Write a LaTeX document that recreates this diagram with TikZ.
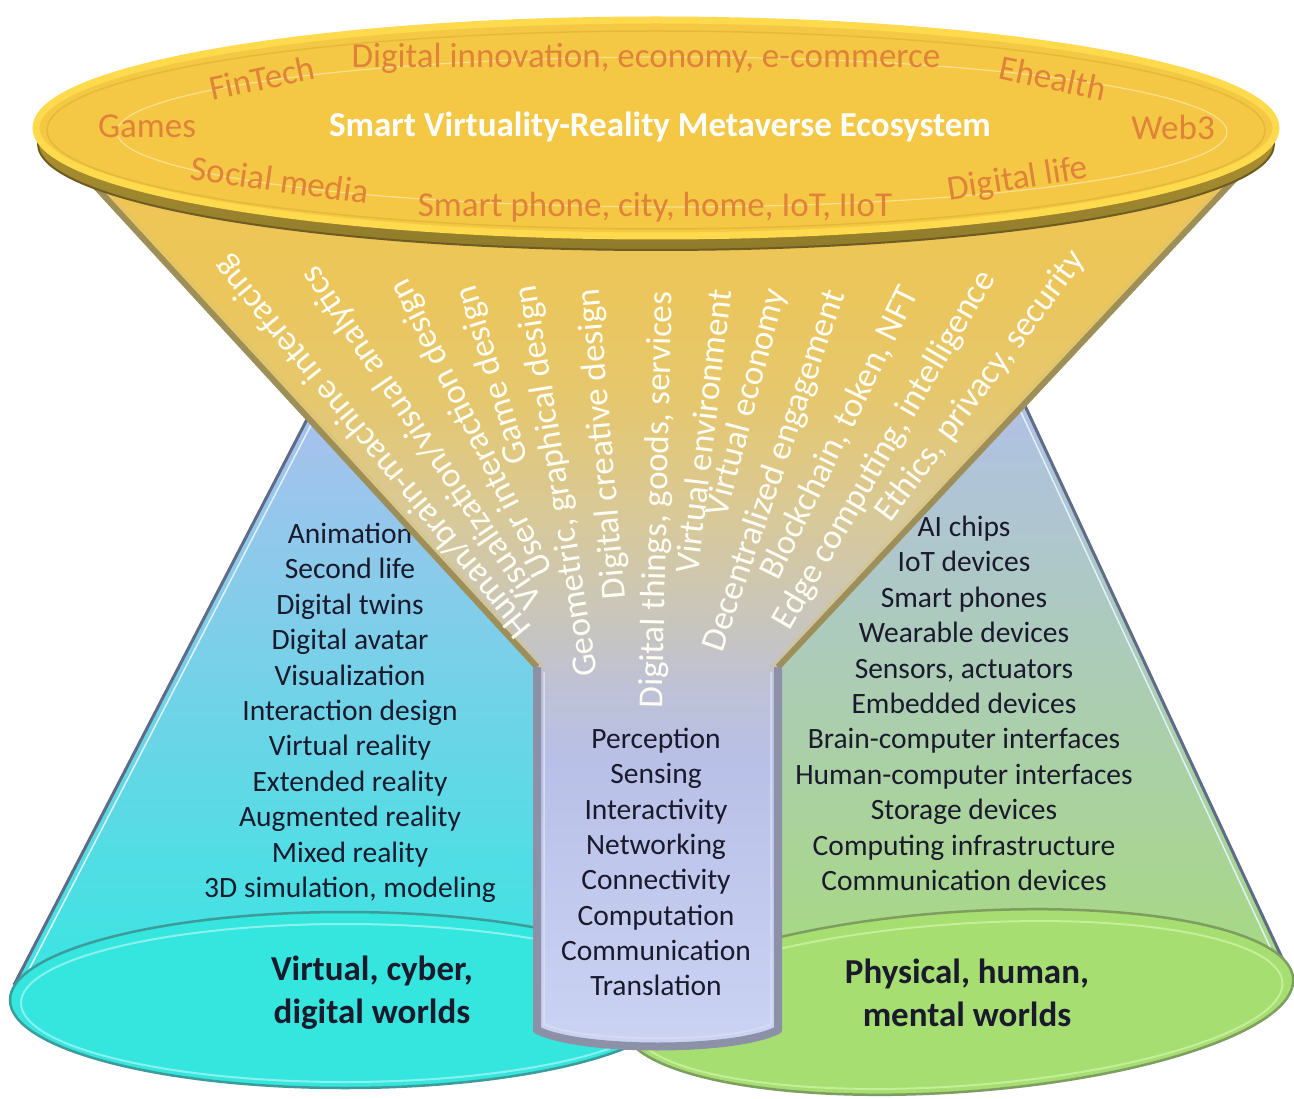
\documentclass[tikz,border=0pt]{standalone}
\usepackage{fontspec}
\setmainfont{Carlito}
\definecolor{stemB}{HTML}{CCD4F4}
\definecolor{stemB2}{HTML}{C8D0F2}
\definecolor{stemA}{HTML}{B8C0E7}
\definecolor{stemTop}{HTML}{BEC1D6}
\definecolor{fgray}{HTML}{C7C5C0}
\definecolor{ftan}{HTML}{D8C99A}
\definecolor{fgold3}{HTML}{E5C76E}
\definecolor{fgold2}{HTML}{ECC65A}
\definecolor{fgold1}{HTML}{F0C552}
\definecolor{lcTop}{HTML}{B0BEEE}
\definecolor{lcBot}{HTML}{36E6E2}
\definecolor{rcTop}{HTML}{B2BFEE}
\definecolor{rcBot}{HTML}{A6DA7C}
\definecolor{lbase}{HTML}{34E6DE}
\definecolor{lbaseE}{HTML}{3C9C9A}
\definecolor{lbaseHi}{HTML}{8AF2EE}
\definecolor{rbase}{HTML}{A6DE72}
\definecolor{rbaseE}{HTML}{7E9E60}
\definecolor{rbaseHi}{HTML}{C4EE98}
\definecolor{rimdk}{HTML}{5E6C88}
\definecolor{rimlt}{HTML}{E2F0FA}
\definecolor{listink}{HTML}{1A1A2C}
\definecolor{fanwhite}{HTML}{FFFDF4}
\definecolor{toporange}{HTML}{E0823A}
\definecolor{facecol}{HTML}{F4C844}
\definecolor{facelip}{HTML}{FFDA4C}
\definecolor{faceinner}{HTML}{E6B83A}
\definecolor{rimtop}{HTML}{C9A633}
\definecolor{rimbot}{HTML}{8F7B2C}
\definecolor{rimedge}{HTML}{6E5C22}
\definecolor{innerline}{HTML}{F9E08E}
\definecolor{fedge}{HTML}{9E8F58}
\definecolor{fedgelt}{HTML}{D8C474}
\definecolor{sedge}{HTML}{8D91A8}
\definecolor{sedgelt}{HTML}{D8DCF0}
\pgfdeclareverticalshading{funnelshade}{100bp}{color(0bp)=(stemB); color(25bp)=(stemB); color(27.9bp)=(stemB2); color(41.2bp)=(stemA); color(45.1bp)=(stemTop); color(48.4bp)=(fgray); color(54.5bp)=(ftan); color(61.1bp)=(fgold3); color(67.8bp)=(fgold2); color(75bp)=(fgold1); color(100bp)=(fgold1)}
\tikzset{
  toplab/.style={text=toporange, font=\fontsize{35}{42}\selectfont, inner sep=0pt},
  titlelab/.style={text=white, font=\bfseries\fontsize{35}{42}\selectfont, inner sep=0pt},
  fanlab/.style={text=fanwhite, font=\fontsize{35}{42}\selectfont, inner sep=0pt, anchor=center},
  lst/.style={text=listink, font=\fontsize{29.5}{35}\selectfont, inner sep=0pt, anchor=base},
  world/.style={text=listink, font=\bfseries\fontsize{35}{43}\selectfont, align=center, inner sep=0pt},
  conerim/.style={draw=rimdk, line width=3pt},
  conerimlt/.style={draw=rimlt, line width=1.5pt},
}
\begin{document}
\begin{tikzpicture}[x=1pt,y=-1pt,line join=round]
\useasboundingbox (0,0) rectangle (1294,1099);
\fill[white] (0,0) rectangle (1294,1099);

% ---- left cone ----
\shade[top color=lcTop, bottom color=lcBot] (14,985) -- (330,375) -- (650,375) -- (650,1000) -- cycle;
\draw[conerim] (14,985) -- (330,375);
\draw[conerimlt] (21,985) -- (337,375);
\foreach \t [count=\i] in {Animation, Second life, Digital twins, Digital avatar, Visualization, Interaction design, Virtual reality, Extended reality, Augmented reality, Mixed reality, {3D simulation, modeling}}
  \node[lst] (vl\i) at (350,{543.5+(\i-1)*35.4}) {\t};

% ---- right cone ----
\shade[top color=rcTop, bottom color=rcBot] (1290,975) -- (1000,352) -- (660,352) -- (660,1000) -- cycle;
\draw[conerim] (1290,975) -- (1000,352);
\draw[conerimlt] (1283,975) -- (993,352);
\foreach \t [count=\i] in {AI chips, IoT devices, Smart phones, Wearable devices, {Sensors, actuators}, Embedded devices, Brain-computer interfaces, Human-computer interfaces, Storage devices, Computing infrastructure, Communication devices}
  \node[lst] (pl\i) at (964,{536.5+(\i-1)*35.4}) {\t};

% ---- base ellipses ----
\draw[fill=lbase, draw=lbaseE, line width=2.5pt] (345,1000) ellipse [x radius=335, y radius=88];
\draw[draw=lbaseHi, line width=2pt] (345,1003) ellipse [x radius=324, y radius=79];
\node[world] (vworld) at (372,993) {Virtual, cyber,\\digital worlds};
\begin{scope}[rotate around={4:(958,1002)}]
\draw[fill=rbase, draw=rbaseE, line width=2.5pt] (958,1002) ellipse [x radius=336, y radius=90];
\draw[draw=rbaseHi, line width=2pt] (958,1005) ellipse [x radius=325, y radius=81];
\end{scope}
\node[world] (pworld) at (967,993) {Physical, human,\\mental worlds};

% ---- funnel + stem ----
\shade[shading=funnelshade] (62,150) -- (537,667) -- (537,1030) .. controls (580,1052) and (735,1052) .. (778,1030) -- (778,667) -- (1262,150) -- cycle;
\draw[draw=fedge, line width=6pt] (62,150) -- (537,667);
\draw[draw=fedge, line width=6pt] (1262,150) -- (778,667);
\draw[draw=fedgelt, line width=1.5pt, opacity=0.7] (70,150) -- (544,667);
\draw[draw=fedgelt, line width=1.5pt, opacity=0.7] (1254,150) -- (771,667);
\draw[draw=sedge, line width=8pt] (537,667) -- (537,1030) .. controls (580,1052) and (735,1052) .. (778,1030) -- (778,667);
\draw[draw=sedgelt, line width=1.5pt] (544,672) -- (544,1024) .. controls (585,1043) and (730,1043) .. (771,1024) -- (771,672);
\foreach \t [count=\i] in {Perception, Sensing, Interactivity, Networking, Connectivity, Computation, Communication, Translation}
  \node[lst] (sl\i) at (656,{748.5+(\i-1)*35.3}) {\t};

% ---- fan texts ----
\node[fanlab, rotate=129.3] (f1) at (373,447) {Human/brain-machine interfacing};
\node[fanlab, rotate=124.1] (f2) at (422,437) {Visualization/visual analytics};
\node[fanlab, rotate=116.5] (f3) at (472,428) {User interaction design};
\node[fanlab, rotate=107] (f4) at (493,375) {Game design};
\node[fanlab, rotate=99] (f5) at (558,481) {Geometric, graphical design};
\node[fanlab, rotate=95] (f6) at (603,444) {Digital creative design};
\node[fanlab, rotate=88.6] (f7) at (658,500) {Digital things, goods, services};
\node[fanlab, rotate=83.3] (f8) at (703,431) {Virtual environment};
\node[fanlab, rotate=75.2] (f9) at (747,403) {Virtual economy};
\node[fanlab, rotate=71.1] (f10) at (775,471) {Decentralized engagement};
\node[fanlab, rotate=64] (f11) at (840,433) {Blockchain, token, NFT};
\node[fanlab, rotate=59.7] (f12) at (885,450) {Edge computing, intelligence};
\node[fanlab, rotate=53.4] (f13) at (981,386) {Ethics, privacy, security};

% ---- top ellipse ----
\shade[top color=rimtop, bottom color=rimbot] (656,144) ellipse [x radius=618, y radius=106];
\draw[draw=rimedge, line width=2pt] (656,144) ellipse [x radius=618, y radius=106];
\draw[fill=facecol, draw=facelip, line width=7pt] (656,128) ellipse [x radius=620, y radius=108];
\draw[draw=faceinner, line width=1.5pt] (656,130) ellipse [x radius=609, y radius=99];
\draw[draw=innerline, line width=1.2pt] (672,132) ellipse [x radius=555, y radius=75];

\node[toplab, rotate=12] (fintech) at (262,78) {FinTech};
\node[toplab] (digi) at (646,58) {Digital innovation, economy, e-commerce};
\node[toplab, rotate=-12] (ehealth) at (1053,78) {Ehealth};
\node[toplab] (games) at (147,126) {Games};
\node[toplab] (web3) at (1173,127) {Web3};
\node[toplab, rotate=-8] (social) at (280,180) {Social media};
\node[toplab] (smartp) at (655,207) {Smart phone, city, home, IoT, IIoT};
\node[toplab, rotate=9] (dlife) at (1018,180) {Digital life};
\node[titlelab] (title) at (660,127) {Smart Virtuality-Reality Metaverse Ecosystem};
\end{tikzpicture}
\end{document}
